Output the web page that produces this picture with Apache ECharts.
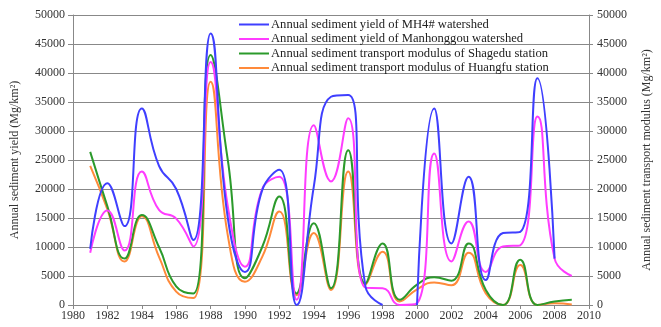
<!DOCTYPE html>
<html>
<head>
<meta charset="utf-8">
<script src="https://cdn.jsdelivr.net/npm/echarts@6/dist/echarts.min.js"></script>
<style>
  html, body { margin: 0; padding: 0; background: #fff; }
  #chart { width: 661px; height: 327px; }
</style>
</head>
<body>
<div id="chart"></div>
<script>
var years = [1981, 1982, 1983, 1984, 1985, 1986, 1987, 1988, 1989, 1990, 1991, 1992, 1993, 1994, 1995,
  1996, 1997, 1998, 1999, 2000, 2001, 2002, 2003, 2004, 2005, 2006, 2007, 2008, 2009];
var mh4 = [9700, 21000, 13600, 33900, 24000, 20000, 11200, 46800, 15000, 5700, 19800, 23300, 0, 20400, 35900,
  36200, 3200, 0, null, 0, 33900, 10600, 22100, 4300, 12400, 12600, 39100, 8000, null];
var manhonggou = [9000, 16300, 9400, 23000, 16400, 14900, 10100, 41900, 17000, 6600, 20000, 22100, 900, 31000, 21300,
  32200, 3000, 2900, 0, 300, 26100, 7500, 14400, 5700, 10100, 10300, 32500, 8000, 5000];
var shagedu = [26400, 17000, 8000, 15500, 10000, 3200, 2000, 43100, 25000, 4600, 10000, 18700, 2000, 14100, 2900,
  26700, 3700, 10600, 900, 3500, 4800, 4200, 10600, 2600, 0, 7800, 0, 600, 900];
var huangfu = [24000, 16500, 7500, 15300, 8300, 2300, 1200, 38500, 12000, 4000, 8300, 16100, 1700, 12400, 2600,
  23000, 3500, 9200, 600, 2700, 3900, 3400, 9000, 2000, 0, 6900, 0, 300, 100];

var names = [
  'Annual sediment yield of MH4# watershed',
  'Annual sediment yield of Manhonggou watershed',
  'Annual sediment transport modulus of Shagedu station',
  'Annual sediment transport modulus of Huangfu station'
];
var colors = ['#3f3fff', '#ff3cff', '#2b9a2b', '#ff8a3a'];

function pairs(vals) {
  return years.map(function (y, i) { return [y, vals[i]]; });
}

var chart = echarts.init(document.getElementById('chart'));
var font = 'Liberation Serif';
var plain = function (v) { return String(v); };
var labelStyle = { color: '#333', fontSize: 12, fontFamily: font, formatter: plain };
var lineStyle = { color: '#888', width: 1 };

var option = {
  animation: false,
  color: colors,
  grid: { left: 73, right: 67, top: 15, bottom: 22 },
  legend: {
    orient: 'vertical',
    left: 234,
    top: 13,
    itemWidth: 30,
    itemHeight: 2,
    itemGap: 1.5,
    icon: 'rect',
    textStyle: { color: '#222', fontSize: 12.6, fontFamily: font, padding: [0, 0, 0, -3] },
    data: names
  },
  xAxis: {
    type: 'value',
    min: 1980,
    max: 2010,
    interval: 2,
    axisLine: { lineStyle: lineStyle },
    axisTick: { length: 4, lineStyle: lineStyle },
    axisLabel: { color: '#333', fontSize: 12, fontFamily: font, margin: 5, formatter: plain },
    splitLine: { show: false }
  },
  yAxis: [{
    type: 'value',
    min: 0,
    max: 50000,
    interval: 5000,
    name: 'Annual sediment yield (Mg/km²)',
    nameLocation: 'middle',
    nameGap: 52,
    nameTextStyle: { color: '#333', fontSize: 12, fontFamily: font },
    axisLine: { show: true, lineStyle: lineStyle },
    axisTick: { show: true, length: 5, lineStyle: lineStyle },
    axisLabel: labelStyle,
    splitLine: { show: false }
  }, {
    type: 'value',
    min: 0,
    max: 50000,
    interval: 5000,
    position: 'right',
    name: 'Annual sediment transport modulus (Mg/km²)',
    nameLocation: 'middle',
    nameGap: 52,
    nameTextStyle: { color: '#333', fontSize: 12, fontFamily: font },
    axisLine: { show: true, lineStyle: lineStyle },
    axisTick: { show: true, length: 4, lineStyle: lineStyle },
    axisLabel: labelStyle,
    splitLine: { show: true, lineStyle: { color: '#888', width: 1 }, interval: function (i, v) { return v === 50000; } }
  }],
  series: [mh4, manhonggou, shagedu, huangfu].map(function (vals, i) {
    return {
      name: names[i],
      type: 'line',
      smooth: 0.5,
      showSymbol: false,
      connectNulls: false,
      lineStyle: { width: 2, color: colors[i] },
      data: pairs(vals),
      z: 10 - i
    };
  })
};
chart.setOption(option);
</script>
</body>
</html>
